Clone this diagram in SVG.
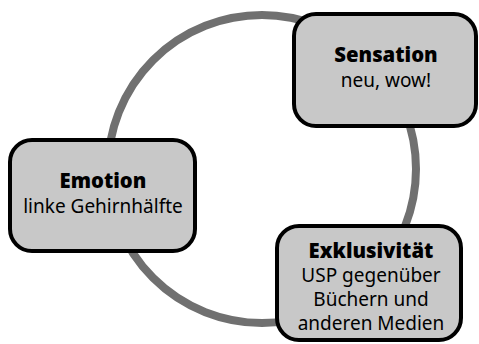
<svg xmlns="http://www.w3.org/2000/svg" width="479" height="344" viewBox="0 0 479 344">
<style>
.box{fill:#c8c8c8;stroke:#000;stroke-width:4}
.t{font-family:"Noto Sans","Open Sans",sans-serif;font-size:20.3px;font-weight:900;fill:#000;text-anchor:middle}
.s{font-family:"Noto Sans","Open Sans",sans-serif;font-size:19px;fill:#000;text-anchor:middle}
</style>
<rect width="479" height="344" fill="#fff"/>
<g id="connectors">
<circle cx="262" cy="169" r="154" fill="none" stroke="#707070" stroke-width="8"/>
</g>
<g id="sensation">
<rect class="box" x="294" y="14" width="182" height="112" rx="22"/>
<text class="t" x="386" y="62">Sensation</text>
<text class="s" x="386" y="87">neu, wow!</text>
</g>
<g id="emotion">
<rect class="box" x="10" y="140" width="185" height="111" rx="22"/>
<text class="t" x="103" y="188">Emotion</text>
<text class="s" x="103" y="213">linke Gehirnhälfte</text>
</g>
<g id="exklusivitaet">
<rect class="box" x="277" y="226" width="184" height="114" rx="22"/>
<text class="t" x="371" y="258">Exklusivität</text>
<text class="s" x="371" y="282">USP gegenüber</text>
<text class="s" x="371" y="306">Büchern und</text>
<text class="s" x="371" y="330">anderen Medien</text>
</g>
</svg>
